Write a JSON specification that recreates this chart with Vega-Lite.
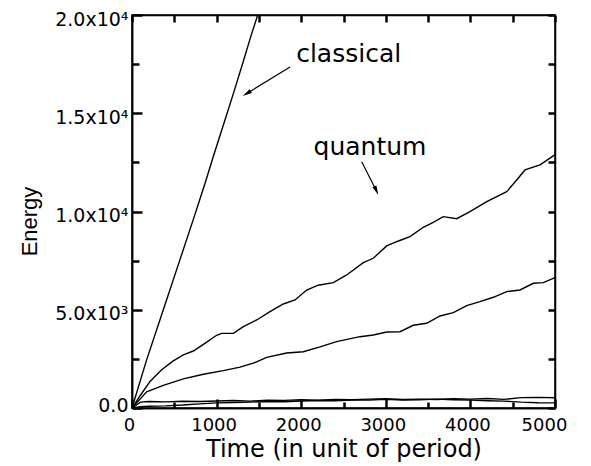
{
  "$schema": "https://vega.github.io/schema/vega-lite/v6.json",
  "width": 423,
  "height": 393,
  "autosize": {"type": "none"},
  "padding": {"left": 132, "top": 15, "right": 36, "bottom": 58},
  "background": "white",
  "config": {
    "view": {"stroke": "black", "strokeWidth": 1.5}
  },
  "datasets": {
    "curves": [
      {"series": "classical", "t": 0, "E": 0},
      {"series": "classical", "t": 173, "E": 2450},
      {"series": "classical", "t": 370, "E": 5000},
      {"series": "classical", "t": 567, "E": 7550},
      {"series": "classical", "t": 725, "E": 9600},
      {"series": "classical", "t": 861, "E": 11400},
      {"series": "classical", "t": 961, "E": 12800},
      {"series": "classical", "t": 1080, "E": 14400},
      {"series": "classical", "t": 1198, "E": 16000},
      {"series": "classical", "t": 1316, "E": 17650},
      {"series": "classical", "t": 1400, "E": 18850},
      {"series": "classical", "t": 1486, "E": 20000},
      {"series": "classical", "t": 1550, "E": 20850},
      {"series": "q1", "t": 0, "E": 0},
      {"series": "q1", "t": 100, "E": 650},
      {"series": "q1", "t": 213, "E": 1350},
      {"series": "q1", "t": 350, "E": 1950},
      {"series": "q1", "t": 488, "E": 2400},
      {"series": "q1", "t": 607, "E": 2700},
      {"series": "q1", "t": 725, "E": 2900},
      {"series": "q1", "t": 883, "E": 3350},
      {"series": "q1", "t": 1000, "E": 3700},
      {"series": "q1", "t": 1060, "E": 3800},
      {"series": "q1", "t": 1198, "E": 3802},
      {"series": "q1", "t": 1316, "E": 4138},
      {"series": "q1", "t": 1474, "E": 4479},
      {"series": "q1", "t": 1631, "E": 4902},
      {"series": "q1", "t": 1789, "E": 5294},
      {"series": "q1", "t": 1927, "E": 5497},
      {"series": "q1", "t": 2065, "E": 6006},
      {"series": "q1", "t": 2200, "E": 6250},
      {"series": "q1", "t": 2380, "E": 6378},
      {"series": "q1", "t": 2538, "E": 6770},
      {"series": "q1", "t": 2734, "E": 7396},
      {"series": "q1", "t": 2852, "E": 7620},
      {"series": "q1", "t": 3010, "E": 8246},
      {"series": "q1", "t": 3150, "E": 8500},
      {"series": "q1", "t": 3286, "E": 8719},
      {"series": "q1", "t": 3443, "E": 9198},
      {"series": "q1", "t": 3560, "E": 9450},
      {"series": "q1", "t": 3680, "E": 9737},
      {"series": "q1", "t": 3838, "E": 9635},
      {"series": "q1", "t": 3995, "E": 9992},
      {"series": "q1", "t": 4193, "E": 10501},
      {"series": "q1", "t": 4429, "E": 11010},
      {"series": "q1", "t": 4547, "E": 11605},
      {"series": "q1", "t": 4645, "E": 12114},
      {"series": "q1", "t": 4823, "E": 12369},
      {"series": "q1", "t": 4980, "E": 12827},
      {"series": "q1", "t": 5000, "E": 12900},
      {"series": "q2", "t": 0, "E": 0},
      {"series": "q2", "t": 173, "E": 820},
      {"series": "q2", "t": 370, "E": 1150},
      {"series": "q2", "t": 607, "E": 1480},
      {"series": "q2", "t": 843, "E": 1720},
      {"series": "q2", "t": 1079, "E": 1900},
      {"series": "q2", "t": 1277, "E": 2080},
      {"series": "q2", "t": 1434, "E": 2280},
      {"series": "q2", "t": 1592, "E": 2580},
      {"series": "q2", "t": 1828, "E": 2800},
      {"series": "q2", "t": 2025, "E": 2866},
      {"series": "q2", "t": 2222, "E": 3110},
      {"series": "q2", "t": 2419, "E": 3375},
      {"series": "q2", "t": 2695, "E": 3629},
      {"series": "q2", "t": 2852, "E": 3716},
      {"series": "q2", "t": 3010, "E": 3868},
      {"series": "q2", "t": 3168, "E": 3884},
      {"series": "q2", "t": 3325, "E": 4209},
      {"series": "q2", "t": 3483, "E": 4311},
      {"series": "q2", "t": 3641, "E": 4683},
      {"series": "q2", "t": 3798, "E": 4851},
      {"series": "q2", "t": 3956, "E": 5207},
      {"series": "q2", "t": 4113, "E": 5411},
      {"series": "q2", "t": 4271, "E": 5635},
      {"series": "q2", "t": 4429, "E": 5920},
      {"series": "q2", "t": 4586, "E": 6006},
      {"series": "q2", "t": 4744, "E": 6347},
      {"series": "q2", "t": 4862, "E": 6378},
      {"series": "q2", "t": 4980, "E": 6602},
      {"series": "q2", "t": 5000, "E": 6640},
      {"series": "s1", "t": 0, "E": 0},
      {"series": "s1", "t": 100, "E": 300},
      {"series": "s1", "t": 200, "E": 330},
      {"series": "s1", "t": 400, "E": 310},
      {"series": "s1", "t": 600, "E": 340},
      {"series": "s1", "t": 800, "E": 330},
      {"series": "s1", "t": 1000, "E": 360},
      {"series": "s1", "t": 1200, "E": 380},
      {"series": "s1", "t": 1400, "E": 350},
      {"series": "s1", "t": 1600, "E": 400},
      {"series": "s1", "t": 1800, "E": 390},
      {"series": "s1", "t": 2000, "E": 420},
      {"series": "s1", "t": 2200, "E": 400},
      {"series": "s1", "t": 2400, "E": 430},
      {"series": "s1", "t": 2600, "E": 420},
      {"series": "s1", "t": 2800, "E": 450},
      {"series": "s1", "t": 3000, "E": 470},
      {"series": "s1", "t": 3200, "E": 430},
      {"series": "s1", "t": 3400, "E": 450},
      {"series": "s1", "t": 3600, "E": 430},
      {"series": "s1", "t": 3800, "E": 470},
      {"series": "s1", "t": 4000, "E": 450},
      {"series": "s1", "t": 4200, "E": 480},
      {"series": "s1", "t": 4400, "E": 440},
      {"series": "s1", "t": 4600, "E": 530},
      {"series": "s1", "t": 4800, "E": 540},
      {"series": "s1", "t": 5000, "E": 520},
      {"series": "s2", "t": 0, "E": 0},
      {"series": "s2", "t": 100, "E": 60},
      {"series": "s2", "t": 200, "E": 90},
      {"series": "s2", "t": 400, "E": 110},
      {"series": "s2", "t": 600, "E": 150},
      {"series": "s2", "t": 800, "E": 210},
      {"series": "s2", "t": 1000, "E": 260},
      {"series": "s2", "t": 1200, "E": 280},
      {"series": "s2", "t": 1400, "E": 300},
      {"series": "s2", "t": 1600, "E": 330},
      {"series": "s2", "t": 1800, "E": 320},
      {"series": "s2", "t": 2000, "E": 360},
      {"series": "s2", "t": 2200, "E": 380},
      {"series": "s2", "t": 2400, "E": 370},
      {"series": "s2", "t": 2600, "E": 400},
      {"series": "s2", "t": 2800, "E": 410},
      {"series": "s2", "t": 3000, "E": 440},
      {"series": "s2", "t": 3200, "E": 410},
      {"series": "s2", "t": 3400, "E": 420},
      {"series": "s2", "t": 3600, "E": 450},
      {"series": "s2", "t": 3800, "E": 420},
      {"series": "s2", "t": 4000, "E": 400},
      {"series": "s2", "t": 4200, "E": 370},
      {"series": "s2", "t": 4400, "E": 350},
      {"series": "s2", "t": 4600, "E": 300},
      {"series": "s2", "t": 4800, "E": 270},
      {"series": "s2", "t": 5000, "E": 260}
    ],
    "labels": [
      {"label": "classical", "t": 2561, "E": 17611},
      {"label": "quantum", "t": 2813, "E": 12878}
    ],
    "arrows": [
      {"which": "classical", "t": 1868, "E": 17357, "t2": 1356, "E2": 16003},
      {"which": "quantum", "t": 2715, "E": 12537, "t2": 2889, "E2": 11061}
    ]
  },
  "layer": [
    {
      "data": {"name": "curves"},
      "mark": {"type": "line", "color": "black", "strokeWidth": 1.4, "clip": true},
      "encoding": {
        "x": {
          "field": "t", "type": "quantitative",
          "scale": {"domain": [0, 5000], "nice": false},
          "axis": {
            "orient": "bottom",
            "zindex": 1,
            "gridOpacity": 0,
            "domainColor": "black",
            "domainWidth": 1.5,
            "values": [0, 1000, 2000, 3000, 4000, 5000],
            "format": "d",
            "tickColor": "black",
            "tickWidth": 2.5,
            "tickSize": -9,
            "labelPadding": 17,
            "labelColor": "black",
            "labelFont": "DejaVu Sans",
            "labelFontSize": 18,
            "labelOffset": {"condition": {"test": "datum.value === 5000", "value": -11}, "value": -3},
            "labelFlush": false,
            "labelOverlap": false,
            "title": "Time (in unit of period)",
            "titleColor": "black",
            "titleFont": "DejaVu Sans",
            "titleFontSize": 24,
            "titleFontWeight": "normal",
            "titleY": 48,
            "titleBaseline": "alphabetic"
          }
        },
        "y": {
          "field": "E", "type": "quantitative",
          "scale": {"domain": [0, 20000], "nice": false},
          "axis": {
            "orient": "left",
            "zindex": 1,
            "gridOpacity": 0,
            "domainColor": "black",
            "domainWidth": 1.5,
            "values": [0, 5000, 10000, 15000, 20000],
            "labelExpr": "datum.value === 0 ? '0.0' : datum.value === 5000 ? '5.0x10³' : datum.value === 10000 ? '1.0x10⁴' : datum.value === 15000 ? '1.5x10⁴' : '2.0x10⁴'",
            "tickColor": "black",
            "tickWidth": 2.5,
            "tickSize": -10,
            "labelPadding": 14,
            "labelColor": "black",
            "labelFont": "DejaVu Sans",
            "labelFontSize": 19,
            "labelBaseline": "middle",
            "labelOffset": {"condition": {"test": "datum.value === 0", "value": -3}, "value": 4},
            "labelFlush": false,
            "labelOverlap": false,
            "title": "Energy",
            "titleColor": "black",
            "titleFont": "Liberation Sans",
            "titleFontSize": 22,
            "titleFontWeight": "normal",
            "titleAngle": -90,
            "titleX": -96,
            "titleY": 206,
            "titleAlign": "center",
            "titleBaseline": "alphabetic"
          }
        },
        "detail": {"field": "series"}
      }
    },
    {
      "data": {"name": "labels"},
      "mark": {"type": "text", "font": "DejaVu Sans", "fontSize": 25, "align": "center", "baseline": "alphabetic", "color": "black"},
      "encoding": {
        "x": {
          "field": "t", "type": "quantitative",
          "axis": {"orient": "top", "zindex": 1, "gridOpacity": 0, "domainColor": "black", "domainWidth": 1.5, "values": [0, 500, 1000, 1500, 2000, 2500, 3000, 3500, 4000, 4500, 5000], "labels": false, "tickColor": "black", "tickWidth": 2.5, "tickSize": -7, "title": null}
        },
        "y": {
          "field": "E", "type": "quantitative",
          "axis": {"orient": "right", "zindex": 1, "gridOpacity": 0, "domainColor": "black", "domainWidth": 1.5, "values": [0, 2500, 5000, 7500, 10000, 12500, 15000, 17500, 20000], "labels": false, "tickColor": "black", "tickWidth": 2.5, "tickSize": -7, "title": null}
        },
        "text": {"field": "label"}
      }
    },
    {
      "data": {"name": "arrows"},
      "mark": {"type": "rule", "color": "black", "strokeWidth": 1.2},
      "encoding": {
        "x": {
          "field": "t", "type": "quantitative",
          "axis": {"orient": "bottom", "zindex": 1, "gridOpacity": 0, "domainColor": "black", "domainWidth": 1.5, "values": [500, 1500, 2500, 3500, 4500], "labels": false, "tickColor": "black", "tickWidth": 2.5, "tickSize": -6, "title": null}
        },
        "y": {
          "field": "E", "type": "quantitative",
          "axis": {"orient": "left", "zindex": 1, "gridOpacity": 0, "domainColor": "black", "domainWidth": 1.5, "values": [2500, 7500, 12500, 17500], "labels": false, "tickColor": "black", "tickWidth": 2.5, "tickSize": -7, "title": null}
        },
        "x2": {"field": "t2"},
        "y2": {"field": "E2"}
      }
    },
    {
      "data": {"name": "arrows"},
      "transform": [{"filter": "datum.which === 'classical'"}],
      "mark": {"type": "point", "shape": "M0,-1L0.45,1L-0.45,1Z", "filled": true, "color": "black", "opacity": 1, "size": 90, "angle": 239},
      "encoding": {
        "x": {"field": "t2", "type": "quantitative", "axis": null},
        "y": {"field": "E2", "type": "quantitative", "axis": null}
      }
    },
    {
      "data": {"name": "arrows"},
      "transform": [{"filter": "datum.which === 'quantum'"}],
      "mark": {"type": "point", "shape": "M0,-1L0.45,1L-0.45,1Z", "filled": true, "color": "black", "opacity": 1, "size": 90, "angle": 156},
      "encoding": {
        "x": {"field": "t2", "type": "quantitative", "axis": null},
        "y": {"field": "E2", "type": "quantitative", "axis": null}
      }
    }
  ],
  "resolve": {"axis": {"x": "independent", "y": "independent"}}
}
